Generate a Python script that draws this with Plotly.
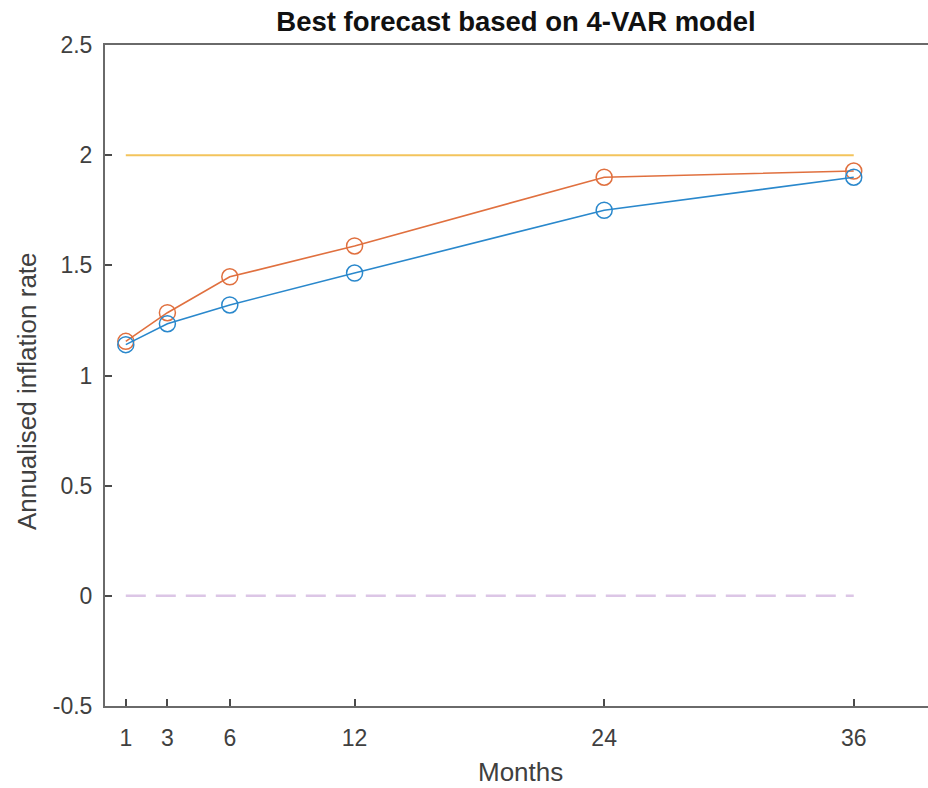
import plotly.graph_objects as go

months = [1, 3, 6, 12, 24, 36]
forecast_a = [1.14, 1.235, 1.32, 1.465, 1.75, 1.90]
forecast_b = [1.155, 1.285, 1.448, 1.588, 1.90, 1.928]
target = [2, 2, 2, 2, 2, 2]
zero = [0, 0, 0, 0, 0, 0]
x_ticks = [1, 3, 6, 12, 24, 36]
y_ticks = [-0.5, 0, 0.5, 1, 1.5, 2, 2.5]
y_tick_text = ["-0.5", "0", "0.5", "1", "1.5", "2", "2.5"]

FONT = "Liberation Sans, Arial"

fig = go.Figure()
fig.add_trace(go.Scatter(x=months, y=target, mode="lines",
                         line=dict(color="#f3c45c", width=2)))
fig.add_trace(go.Scatter(x=months, y=zero, mode="lines",
                         line=dict(color="#dcc6e6", width=2.5, dash="20px,10px")))
fig.add_trace(go.Scatter(x=months, y=forecast_b, mode="lines+markers",
                         line=dict(color="#e0703f", width=1.6),
                         marker=dict(symbol="circle-open", size=16,
                                     line=dict(color="#e0703f", width=1.5))))
fig.add_trace(go.Scatter(x=months, y=forecast_a, mode="lines+markers",
                         line=dict(color="#2a88cc", width=1.6),
                         marker=dict(symbol="circle-open", size=16,
                                     line=dict(color="#2a88cc", width=1.5))))

axis_common = dict(showgrid=False, zeroline=False, showline=True, mirror=True,
                   linecolor="#6a6a6a", linewidth=2, ticks="inside",
                   ticklen=7, tickwidth=1.5, tickcolor="#4a4a4a",
                   tickfont=dict(family=FONT, size=23, color="#404040"))

fig.update_layout(
    width=928, height=788,
    paper_bgcolor="white", plot_bgcolor="white",
    showlegend=False,
    margin=dict(l=105, r=0, t=45, b=82, autoexpand=False),
    title=dict(text="<b>Best forecast based on 4-VAR model</b>",
               x=0.556, xanchor="center", xref="container",
               y=1 - 21 / 788, yanchor="middle", yref="container",
               font=dict(family=FONT, size=27.5, color="#111111")),
    xaxis=dict(range=[0, 39.57], tickvals=x_ticks, ticklabelstandoff=10,
               **axis_common),
    yaxis=dict(range=[-0.5, 2.5], tickvals=y_ticks, ticktext=y_tick_text,
               ticklabelstandoff=6, **axis_common),
    annotations=[
        dict(text="Months", xref="paper", yref="paper",
             x=(520 - 105) / 823, y=(706 - 772) / 661,
             xanchor="center", yanchor="middle", showarrow=False,
             font=dict(family=FONT, size=26, color="#404040")),
        dict(text="Annualised inflation rate", xref="paper", yref="paper",
             x=(27 - 105) / 823, y=(706 - 391) / 661, textangle=-90,
             xanchor="center", yanchor="middle", showarrow=False,
             font=dict(family=FONT, size=26, color="#404040")),
    ],
)

fig.write_html("out.html", config={"displayModeBar": False},
               post_script="document.body.style.margin='0';document.body.style.overflow='hidden';")
